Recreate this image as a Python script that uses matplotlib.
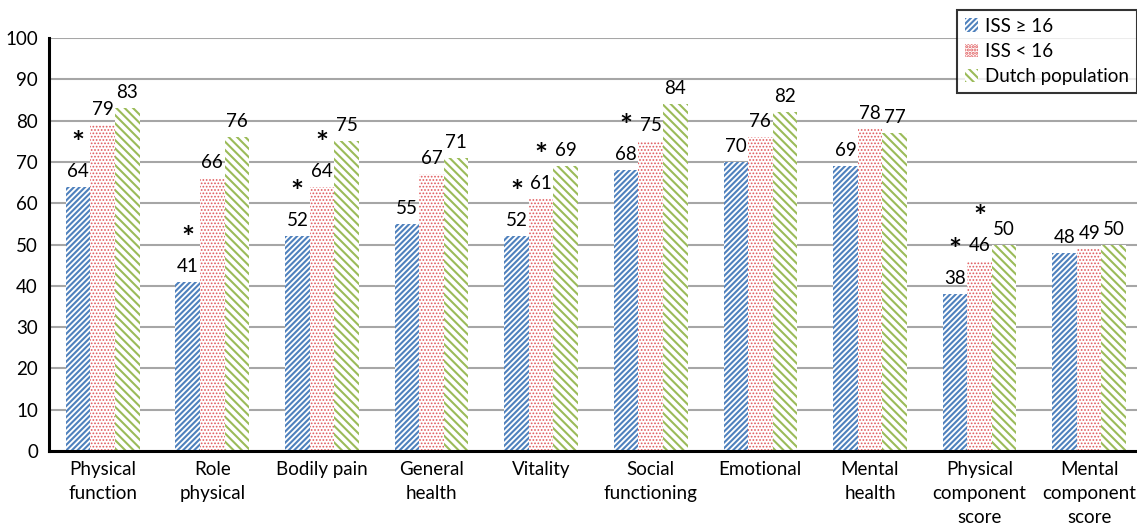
import matplotlib.pyplot as plt
import numpy as np

plt.rcParams['font.family'] = ['Lato', 'DejaVu Sans']

# Data
categories = ['Physical\nfunction', 'Role\nphysical', 'Bodily pain', 'General\nhealth',
              'Vitality', 'Social\nfunctioning', 'Emotional', 'Mental\nhealth',
              'Physical\ncomponent\nscore', 'Mental\ncomponent\nscore']
iss_high = [64, 41, 52, 55, 52, 68, 70, 69, 38, 48]
iss_low = [79, 66, 64, 67, 61, 75, 76, 78, 46, 49]
dutch = [83, 76, 75, 71, 69, 84, 82, 77, 50, 50]
series_names = ['ISS \u2265 16', 'ISS < 16', 'Dutch population']

# significance marks: (category index, series index)
stars = [(0, 0), (1, 0), (2, 0), (2, 1), (4, 0), (4, 1), (5, 0), (8, 0), (8, 1)]

colors = ['#4F81BD', '#E05A5C', '#9BBB59']
hatches = ['//////', '.....', '\\\\\\\\']
hatch_lw = [1.5, 0.8, 1.5]

fig = plt.figure(figsize=(11.37, 5.30), dpi=100)
ax = fig.add_axes([49 / 1137, 79 / 530, 1095 / 1137, 413 / 530])

x = np.arange(len(categories))
w = 0.224
all_series = [iss_high, iss_low, dutch]
for i, vals in enumerate(all_series):
    plt.rcParams['hatch.linewidth'] = hatch_lw[i]
    ax.bar(x + (i - 1) * w, vals, w, color='white', edgecolor=colors[i],
           hatch=hatches[i], linewidth=0, label=series_names[i], zorder=2)
    for xi, v in zip(x + (i - 1) * w, vals):
        ax.annotate(str(v), (xi, v), xytext=(0, 5), textcoords='offset points',
                    ha='center', va='bottom', fontsize=13.5)

for c, s in stars:
    v = all_series[s][c]
    ax.annotate('*', (x[c] + (s - 1) * w, v), xytext=(0, 21), textcoords='offset points',
                ha='center', va='bottom', fontsize=22, fontweight='bold')

ax.set_xlim(-0.49, 9.5)
ax.set_ylim(0, 100)
ax.set_yticks(range(0, 101, 10))
ax.set_xticks(x)
ax.set_xticklabels(categories, fontsize=13.5, linespacing=1.5)
ax.tick_params(axis='y', labelsize=13.5, length=0, pad=8)
ax.tick_params(axis='x', length=0, pad=7)
ax.grid(axis='y', color='#A6A6A6', linewidth=1.5, zorder=0)
ax.set_axisbelow(True)
for sp in ['top', 'right']:
    ax.spines[sp].set_visible(False)
ax.spines['left'].set_linewidth(2.2)
ax.spines['bottom'].set_linewidth(2.2)

leg = fig.legend(loc='upper left', bbox_to_anchor=(957 / 1137, 1 - 10 / 530),
                 fontsize=13.5, frameon=True, fancybox=False, handlelength=0.7,
                 handleheight=0.7, handletextpad=0.4, labelspacing=0.45,
                 borderaxespad=0, borderpad=0.4)
leg.get_frame().set_edgecolor('black')
leg.get_frame().set_linewidth(1.5)

fig.savefig('out.png', dpi=100)
